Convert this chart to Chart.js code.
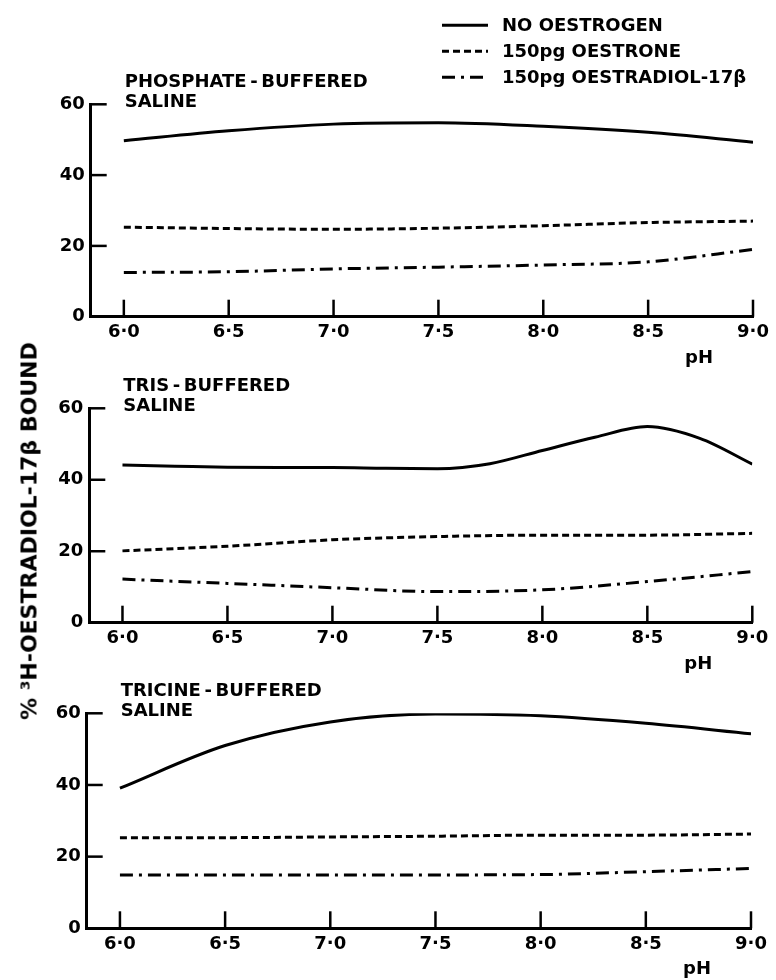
<!DOCTYPE html>
<html>
<head>
<meta charset="utf-8">
<title>Oestradiol-17β binding against pH</title>
<script src="https://cdn.jsdelivr.net/npm/chart.js@4.4.1/dist/chart.umd.min.js"></script>
<style>
  body { margin: 0; background: #fff; }
  #wrap { position: relative; width: 776px; height: 980px; overflow: hidden; background: #fff; }
  #wrap canvas { position: absolute; left: 0; }
  #yTitle {
    position: absolute; left: 29px; top: 531px;
    transform: translate(-50%, -50%) rotate(-90deg);
    white-space: nowrap; color: #000;
    font: bold 22px "DejaVu Sans", sans-serif;
  }
</style>
</head>
<body>
<div id="wrap">
  <canvas id="phosphate" width="776" height="380" style="top:0"></canvas>
  <canvas id="tris" width="776" height="340" style="top:350px"></canvas>
  <canvas id="tricine" width="776" height="320" style="top:660px"></canvas>
  <div id="yTitle">% ³H-OESTRADIOL-17β BOUND</div>
</div>
<script>
// pH values
const phHalf = [6.0, 6.5, 7.0, 7.5, 8.0, 8.5, 9.0];
const phQuarter = [6.0, 6.25, 6.5, 6.75, 7.0, 7.25, 7.5, 7.75, 8.0, 8.25, 8.5, 8.75, 9.0];
const phTicks = [6.0, 6.5, 7.0, 7.5, 8.0, 8.5, 9.0];
const boundTicks = [0, 20, 40, 60];

// phosphate-buffered saline
const phosNone = [49.7, 52.5, 54.4, 54.8, 53.8, 52.1, 49.3];
const phosOestrone = [25.3, 24.9, 24.7, 25.0, 25.7, 26.6, 27.0];
const phosOestradiol = [12.5, 12.7, 13.5, 14.0, 14.6, 15.5, 19.0];

// tris-buffered saline (no oestrogen read at quarter steps)
const trisNone = [44.1, 43.8, 43.5, 43.4, 43.4, 43.2, 43.1, 44.5, 48.2, 51.9, 54.9, 51.6, 44.4];
const trisOestrone = [20.1, 21.4, 23.2, 24.1, 24.5, 24.5, 25.0];
const trisOestradiol = [12.2, 11.0, 9.8, 8.7, 9.2, 11.5, 14.3];

// tricine-buffered saline
const tricNone = [39.1, 51.0, 57.6, 59.8, 59.3, 57.2, 54.3];
const tricOestrone = [25.3, 25.3, 25.5, 25.7, 26.0, 26.0, 26.3];
const tricOestradiol = [14.9, 14.9, 14.9, 14.9, 15.0, 15.8, 16.7];

const seriesNames = ['NO OESTROGEN', '150pg OESTRONE', '150pg OESTRADIOL-17β'];

const ink = '#000';
const fontFamily = '"DejaVu Sans", sans-serif';
const seriesDash = [[], [7, 4], [13, 6, 3, 6]];
const xMin = 5.842;

Chart.defaults.font.family = fontFamily;
Chart.defaults.color = ink;

function makeDataset(i, xs, ys) {
    return {
        label: seriesNames[i],
        data: xs.map((x, k) => ({ x: x, y: ys[k] })),
        borderColor: ink,
        borderWidth: 3,
        borderDash: seriesDash[i],
        pointRadius: 0,
        cubicInterpolationMode: 'monotone',
        fill: false
    };
}

// inside tick marks, panel titles, pH label and the legend
const panelDecor = {
    id: 'panelDecor',
    afterDraw(chart, args, opts) {
        const ctx = chart.ctx;
        const a = chart.chartArea;
        const xs = chart.scales.x;
        const ys = chart.scales.y;
        ctx.save();
        ctx.strokeStyle = ink;
        ctx.fillStyle = ink;
        ctx.lineWidth = 2.5;
        ctx.setLineDash([]);

        xs.ticks.forEach(t => {
            const px = xs.getPixelForValue(t.value);
            ctx.beginPath();
            ctx.moveTo(px, a.bottom);
            ctx.lineTo(px, a.bottom - 17);
            ctx.stroke();
        });
        ys.ticks.forEach(t => {
            if (t.value === 0) return;
            const py = ys.getPixelForValue(t.value);
            ctx.beginPath();
            ctx.moveTo(a.left, py);
            ctx.lineTo(a.left + 16, py);
            ctx.stroke();
        });

        ctx.font = 'bold 18px ' + fontFamily;
        ctx.textAlign = 'left';
        ctx.textBaseline = 'alphabetic';
        const n = opts.title.length;
        opts.title.forEach((line, i) => {
            ctx.fillText(line, a.left + 34, a.top + 3 - (n - 1 - i) * 20);
        });
        ctx.fillText('pH', a.right - 68, a.bottom + 46);

        if (opts.legend) {
            ctx.font = 'bold 18px ' + fontFamily;
            chart.data.datasets.forEach((ds, i) => {
                const base = a.top - 73 + i * 26;
                ctx.lineWidth = ds.borderWidth;
                ctx.setLineDash(ds.borderDash);
                ctx.beginPath();
                ctx.moveTo(a.right - 311, base - 6);
                ctx.lineTo(a.right - 265, base - 6);
                ctx.stroke();
                ctx.fillText(ds.label, a.right - 251, base);
            });
        }
        ctx.restore();
    }
};

function makePanel(canvasId, box, datasets, title, legend) {
    const canvas = document.getElementById(canvasId);
    const h = canvas.height;
    const tickFont = { family: fontFamily, size: 18, weight: 'bold' };
    return new Chart(canvas, {
        type: 'line',
        data: { datasets: datasets },
        options: {
            responsive: false,
            animation: false,
            events: [],
            layout: {
                padding: {
                    left: box.left - 50,
                    right: 776 - box.right,
                    top: box.top - box.canvasTop,
                    bottom: h - (box.bottom - box.canvasTop) - 40
                }
            },
            plugins: {
                legend: { display: false },
                tooltip: { enabled: false },
                panelDecor: { title: title, legend: legend }
            },
            scales: {
                x: {
                    type: 'linear',
                    min: xMin,
                    max: 9,
                    afterBuildTicks: s => { s.ticks = phTicks.map(v => ({ value: v })); },
                    afterFit: s => { s.height = 40; },
                    grid: { drawOnChartArea: false, drawTicks: false },
                    border: { color: ink, width: 3 },
                    ticks: {
                        padding: 5,
                        color: ink,
                        font: tickFont,
                        maxRotation: 0,
                        callback: v => v.toFixed(1).replace('.', '·')
                    }
                },
                y: {
                    type: 'linear',
                    min: 0,
                    max: 60,
                    afterBuildTicks: s => { s.ticks = boundTicks.map(v => ({ value: v })); },
                    afterFit: s => { s.width = 50; },
                    grid: { drawOnChartArea: false, drawTicks: false },
                    border: { color: ink, width: 3 },
                    ticks: { padding: 6, color: ink, font: tickFont }
                }
            }
        },
        plugins: [panelDecor]
    });
}

makePanel('phosphate',
    { canvasTop: 0, left: 90.7, right: 753, top: 104.3, bottom: 316.7 },
    [makeDataset(0, phHalf, phosNone), makeDataset(1, phHalf, phosOestrone), makeDataset(2, phHalf, phosOestradiol)],
    ['PHOSPHATE\u2009-\u2009BUFFERED', 'SALINE'], true);

makePanel('tris',
    { canvasTop: 350, left: 89.3, right: 752.3, top: 408.3, bottom: 622.7 },
    [makeDataset(0, phQuarter, trisNone), makeDataset(1, phHalf, trisOestrone), makeDataset(2, phHalf, trisOestradiol)],
    ['TRIS\u2009-\u2009BUFFERED', 'SALINE'], false);

makePanel('tricine',
    { canvasTop: 660, left: 86.7, right: 751, top: 713.3, bottom: 928.3 },
    [makeDataset(0, phHalf, tricNone), makeDataset(1, phHalf, tricOestrone), makeDataset(2, phHalf, tricOestradiol)],
    ['TRICINE\u2009-\u2009BUFFERED', 'SALINE'], false);
</script>
</body>
</html>
